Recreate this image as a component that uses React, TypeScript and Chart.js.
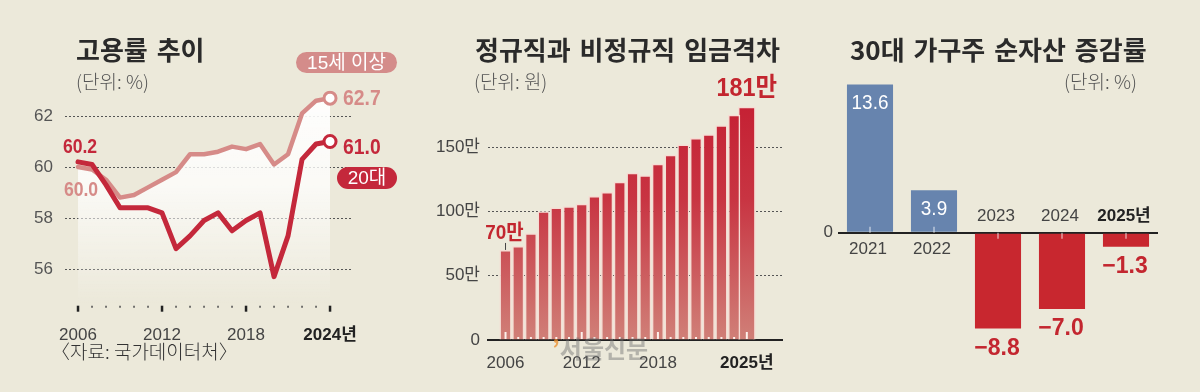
import React, { useEffect, useRef } from "react";
import { Chart, registerables } from "chart.js";

Chart.register(...registerables);

const NUM = "'Liberation Sans Narrow', 'Liberation Sans', 'Noto Sans CJK KR', sans-serif";
const KO = "'Noto Sans CJK KR', 'Noto Sans', sans-serif";

// ---- 고용률 추이 (단위: %) ----
const empYears = [2006, 2007, 2008, 2009, 2010, 2011, 2012, 2013, 2014, 2015, 2016, 2017, 2018, 2019, 2020, 2021, 2022, 2023, 2024];
const emp15 = [60.0, 59.9, 59.5, 58.8, 58.9, 59.2, 59.5, 59.8, 60.5, 60.5, 60.6, 60.8, 60.7, 60.9, 60.1, 60.5, 62.1, 62.6, 62.7];
const emp20 = [60.2, 60.1, 59.3, 58.4, 58.4, 58.4, 58.2, 56.8, 57.3, 57.9, 58.2, 57.5, 57.9, 58.2, 55.7, 57.3, 60.3, 60.9, 61.0];
const empYTicks = [56, 58, 60, 62];
const empXTicks = [2006, 2012, 2018, 2024];

// ---- 정규직과 비정규직 임금격차 (단위: 만원) ----
const gapYears = [2006, 2007, 2008, 2009, 2010, 2011, 2012, 2013, 2014, 2015, 2016, 2017, 2018, 2019, 2020, 2021, 2022, 2023, 2024, 2025];
const gapValues = [70, 73, 83, 100, 103, 104, 106, 112, 115, 123, 130, 128, 137, 144, 152, 157, 160, 167, 175, 181];
const gapYTicks = [0, 50, 100, 150];
const gapXTicks = [2006, 2012, 2018, 2025];

// ---- 30대 가구주 순자산 증감률 (단위: %) ----
const assetYears = ["2021", "2022", "2023", "2024", "2025"];
const assetValues = [13.6, 3.9, -8.8, -7.0, -1.3];

const BG = "#ece9da";
const RED = "#c4283b";
const PINK = "#d68b88";
const PILL_PINK = "#d48c8a";
const BLUE = "#6784ae";
const BAR_RED = "#c8272f";
const LABEL_RED = "#c3262f";
const TICK_SIZE = 17;

const zeroPad = (s: any) => {
  s.paddingLeft = 0;
  s.paddingRight = 0;
  s.paddingTop = 0;
  s.paddingBottom = 0;
};

// condensed text, to imitate the narrow newspaper figures
function narrowText(ctx: any, text: string, x: number, y: number, sx = 0.88) {
  ctx.save();
  ctx.translate(x, y);
  ctx.scale(sx, 1);
  ctx.fillText(text, 0, 0);
  ctx.restore();
}

function empConfig(): any {
  const labelPlugin = {
    id: "empLabels",
    afterDatasetsDraw(chart: any) {
      const { ctx, chartArea } = chart;
      const x = chart.scales.x;
      const y = chart.scales.y;
      ctx.save();
      empYears.forEach((yr) => {
        const px = x.getPixelForValue(yr);
        const major = empXTicks.includes(yr);
        ctx.strokeStyle = major ? "#222" : "#555";
        ctx.lineWidth = major ? 2.5 : 1.6;
        ctx.beginPath();
        ctx.moveTo(px, chartArea.bottom + 1);
        ctx.lineTo(px, chartArea.bottom + (major ? 7 : 3));
        ctx.stroke();
      });
      const last = empYears.length - 1;
      const x0 = x.getPixelForValue(empYears[0]);
      const xl = x.getPixelForValue(empYears[last]);
      ctx.textBaseline = "middle";
      ctx.textAlign = "center";
      ctx.font = `bold 20px ${NUM}`;
      ctx.fillStyle = RED;
      narrowText(ctx, emp20[0].toFixed(1), x0 + 2, y.getPixelForValue(emp20[0]) - 14);
      ctx.fillStyle = PINK;
      narrowText(ctx, emp15[0].toFixed(1), x0 + 3, y.getPixelForValue(emp15[0]) + 23);
      ctx.textAlign = "left";
      ctx.font = `bold 22px ${NUM}`;
      ctx.fillStyle = PINK;
      narrowText(ctx, emp15[last].toFixed(1), xl + 13, y.getPixelForValue(emp15[last]) + 1);
      ctx.fillStyle = RED;
      narrowText(ctx, emp20[last].toFixed(1), xl + 13, y.getPixelForValue(emp20[last]) + 6);
      ctx.restore();
    },
  };
  const last = empYears.length - 1;
  const pr = (c: any) => (c.dataIndex === last ? 6 : 0);
  return {
    type: "line",
    data: {
      datasets: [
        {
          label: "20대",
          data: empYears.map((yr, i) => ({ x: yr, y: emp20[i] })),
          borderColor: RED,
          borderWidth: 5,
          tension: 0,
          borderJoinStyle: "round",
          borderCapStyle: "round",
          pointRadius: pr,
          pointBackgroundColor: "#fff",
          pointBorderColor: RED,
          pointBorderWidth: 3,
          fill: false,
          order: 0,
        },
        {
          label: "15세 이상",
          data: empYears.map((yr, i) => ({ x: yr, y: emp15[i] })),
          borderColor: PINK,
          borderWidth: 4.5,
          tension: 0,
          borderJoinStyle: "round",
          borderCapStyle: "round",
          pointRadius: pr,
          pointBackgroundColor: "#fff",
          pointBorderColor: PINK,
          pointBorderWidth: 3,
          fill: "start",
          backgroundColor: (c: any) => {
            const area = c.chart.chartArea;
            if (!area) return "rgba(255,255,255,0.6)";
            const g = c.chart.ctx.createLinearGradient(0, area.top, 0, area.bottom);
            g.addColorStop(0, "rgba(255,255,255,0.95)");
            g.addColorStop(0.45, "rgba(255,255,255,0.75)");
            g.addColorStop(1, "rgba(255,255,255,0)");
            return g;
          },
          order: 1,
        },
      ],
    },
    options: {
      responsive: false,
      animation: false,
      devicePixelRatio: 1,
      layout: { padding: { top: 90.5, right: 47, left: 0, bottom: 0 } },
      plugins: { legend: { display: false }, tooltip: { enabled: false } },
      scales: {
        x: {
          type: "linear",
          min: 2005.07,
          max: 2025.64,
          offset: false,
          afterBuildTicks: (a: any) => {
            a.ticks = empXTicks.map((v) => ({ value: v }));
          },
          afterFit: (s: any) => {
            s.height = 392 - 304.7;
            zeroPad(s);
          },
          grid: { display: false },
          border: { display: false },
          ticks: {
            autoSkip: false,
            maxRotation: 0,
            padding: 12,
            callback: (v: any) => (v === 2024 ? "2024년" : String(v)),
            color: (c: any) => (c.tick && c.tick.value === 2024 ? "#222" : "#444"),
            font: (c: any) => ({ family: NUM, size: TICK_SIZE, weight: c.tick && c.tick.value === 2024 ? "bold" : "normal" }),
          },
        },
        y: {
          min: 54.6,
          max: 63,
          afterBuildTicks: (a: any) => {
            a.ticks = empYTicks.map((v) => ({ value: v }));
          },
          afterFit: (s: any) => {
            s.width = 65;
            zeroPad(s);
          },
          grid: { color: "#555", lineWidth: 1, drawTicks: false },
          border: { display: false, dash: [2, 2] },
          ticks: { padding: 12, color: "#555", font: { family: NUM, size: TICK_SIZE } },
        },
      },
    },
    plugins: [labelPlugin],
  };
}

function gapConfig(): any {
  const fill = (c: any) => {
    const area = c.chart.chartArea;
    if (!area) return "#c83a44";
    const g = c.chart.ctx.createLinearGradient(0, area.top, 0, area.bottom);
    g.addColorStop(0, "rgb(196,28,48)");
    g.addColorStop(0.45, "rgb(200,52,66)");
    g.addColorStop(1, "rgb(208,128,120)");
    return g;
  };
  const lastIdx = gapYears.length - 1;
  const labelPlugin = {
    id: "gapLabels",
    afterDatasetsDraw(chart: any) {
      const { ctx, chartArea } = chart;
      const x = chart.scales.x;
      const y = chart.scales.y;
      ctx.save();
      gapYears.forEach((yr) => {
        const px = x.getPixelForValue(yr);
        const major = gapXTicks.includes(yr);
        ctx.strokeStyle = "rgba(255,248,242,0.95)";
        ctx.lineWidth = 2;
        ctx.beginPath();
        ctx.moveTo(px, chartArea.bottom - 1);
        ctx.lineTo(px, chartArea.bottom - (major ? 8 : 3));
        ctx.stroke();
      });
      const x0 = x.getPixelForValue(gapYears[0]);
      const t0 = y.getPixelForValue(gapValues[0]);
      ctx.strokeStyle = "#444";
      ctx.lineWidth = 1;
      ctx.beginPath();
      ctx.moveTo(x0, t0 - 7);
      ctx.lineTo(x0, t0);
      ctx.stroke();
      ctx.textAlign = "center";
      ctx.textBaseline = "middle";
      ctx.fillStyle = LABEL_RED;
      ctx.font = `bold 21px ${NUM}`;
      narrowText(ctx, gapValues[0] + "만", x0 - 1, t0 - 17, 0.9);
      const xl = x.getPixelForValue(gapYears[lastIdx]);
      const tl = y.getPixelForValue(gapValues[lastIdx]);
      ctx.font = `bold 26px ${NUM}`;
      narrowText(ctx, gapValues[lastIdx] + "만", xl, tl - 18, 0.9);
      ctx.restore();
    },
  };
  const common = {
    backgroundColor: fill,
    borderColor: "#f6dcd4",
    borderWidth: 1.5,
    borderSkipped: "bottom",
    categoryPercentage: 1,
    grouped: false,
  };
  return {
    type: "bar",
    data: {
      datasets: [
        {
          ...common,
          label: "임금격차",
          data: gapYears.slice(0, lastIdx).map((yr, i) => ({ x: yr, y: gapValues[i] })),
          barPercentage: 0.96,
        },
        {
          ...common,
          label: "2025",
          data: [{ x: gapYears[lastIdx], y: gapValues[lastIdx] }],
          barThickness: 17,
        },
      ],
    },
    options: {
      responsive: false,
      animation: false,
      devicePixelRatio: 1,
      layout: { padding: { top: 82.7, right: 18, left: 0, bottom: 0 } },
      plugins: { legend: { display: false }, tooltip: { enabled: false } },
      scales: {
        x: {
          type: "linear",
          min: 2004.62,
          max: 2027.77,
          offset: false,
          afterBuildTicks: (a: any) => {
            a.ticks = gapXTicks.map((v) => ({ value: v }));
          },
          afterFit: (s: any) => {
            s.height = 52;
            zeroPad(s);
          },
          grid: { display: false },
          border: { display: true, color: "#222", width: 2 },
          ticks: {
            autoSkip: false,
            maxRotation: 0,
            padding: 5,
            callback: (v: any) => (v === 2025 ? "2025년" : String(v)),
            color: (c: any) => (c.tick && c.tick.value === 2025 ? "#222" : "#444"),
            font: (c: any) => ({ family: NUM, size: TICK_SIZE, weight: c.tick && c.tick.value === 2025 ? "bold" : "normal" }),
          },
        },
        y: {
          min: 0,
          max: 200,
          afterBuildTicks: (a: any) => {
            a.ticks = gapYTicks.map((v) => ({ value: v }));
          },
          afterFit: (s: any) => {
            s.width = 88;
            zeroPad(s);
          },
          grid: {
            color: (c: any) => (c.tick && c.tick.value === 0 ? "rgba(0,0,0,0)" : "#555"),
            lineWidth: 1,
            drawTicks: false,
          },
          border: { display: false, dash: [2, 2] },
          ticks: {
            padding: 8,
            color: "#444",
            font: { family: NUM, size: TICK_SIZE },
            callback: (v: any) => (v === 0 ? "0" : v + "만"),
          },
        },
      },
    },
    plugins: [labelPlugin],
  };
}

function assetConfig(): any {
  const labelPlugin = {
    id: "assetLabels",
    afterDatasetsDraw(chart: any) {
      const { ctx } = chart;
      const meta = chart.getDatasetMeta(0);
      const zero = chart.scales.y.getPixelForValue(0);
      ctx.save();
      ctx.textAlign = "center";
      ctx.textBaseline = "middle";
      meta.data.forEach((bar: any, i: number) => {
        const v = assetValues[i];
        const p = bar.getProps(["x", "y"], true);
        const isLast = i === assetYears.length - 1;
        ctx.strokeStyle = "rgba(255,255,255,0.55)";
        ctx.lineWidth = 1.5;
        ctx.beginPath();
        ctx.moveTo(p.x, zero);
        ctx.lineTo(p.x, v >= 0 ? zero - 6 : zero + 6);
        ctx.stroke();
        if (v >= 0) {
          ctx.fillStyle = "#fff";
          ctx.font = `21px ${NUM}`;
          narrowText(ctx, v.toFixed(1), p.x, p.y + 19, 0.9);
          ctx.fillStyle = "#444";
          ctx.font = `${TICK_SIZE}px ${NUM}`;
          ctx.fillText(assetYears[i], p.x - 2, zero + 17);
        } else {
          ctx.fillStyle = LABEL_RED;
          ctx.font = `bold 23px ${NUM}`;
          ctx.fillText("\u2212" + Math.abs(v).toFixed(1), p.x - 1, p.y + 20);
          ctx.fillStyle = isLast ? "#222" : "#444";
          ctx.font = `${isLast ? "bold " : ""}${TICK_SIZE}px ${NUM}`;
          ctx.fillText(isLast ? assetYears[i] + "년" : assetYears[i], p.x - 2, zero - 16);
        }
      });
      ctx.restore();
    },
  };
  return {
    type: "bar",
    data: {
      labels: assetYears,
      datasets: [
        {
          label: "순자산 증감률",
          data: assetValues,
          backgroundColor: (c: any) => (c.raw >= 0 ? BLUE : BAR_RED),
          barPercentage: 0.72,
          categoryPercentage: 1,
        },
      ],
    },
    options: {
      responsive: false,
      animation: false,
      devicePixelRatio: 1,
      layout: { padding: { top: 74.65, right: 42, left: 0, bottom: 39.4 } },
      plugins: { legend: { display: false }, tooltip: { enabled: false } },
      scales: {
        x: { display: false },
        y: {
          min: -11,
          max: 14.5,
          afterBuildTicks: (a: any) => {
            a.ticks = [{ value: 0 }];
          },
          afterFit: (s: any) => {
            s.width = 38;
            zeroPad(s);
          },
          grid: { color: "#222", lineWidth: 2, drawTicks: false },
          border: { display: false },
          ticks: { padding: 5, color: "#444", font: { family: NUM, size: TICK_SIZE } },
        },
      },
    },
    plugins: [labelPlugin],
  };
}

const abs = (o: any): any => ({ position: "absolute", whiteSpace: "nowrap", ...o });
const titleStyle = (left: number): any =>
  abs({ left, top: 36, fontFamily: KO, fontSize: 26, lineHeight: "26px", fontWeight: 700, color: "#2a2a2a", wordSpacing: 3 });
const unitStyle = (o: any): any =>
  abs({ top: 71, fontFamily: KO, fontSize: 19, lineHeight: "19px", fontWeight: 300, color: "#555", ...o });

export default function App() {
  const r1 = useRef<HTMLCanvasElement>(null);
  const r2 = useRef<HTMLCanvasElement>(null);
  const r3 = useRef<HTMLCanvasElement>(null);
  useEffect(() => {
    const c1 = new Chart(r1.current as any, empConfig());
    const c2 = new Chart(r2.current as any, gapConfig());
    const c3 = new Chart(r3.current as any, assetConfig());
    return () => {
      c1.destroy();
      c2.destroy();
      c3.destroy();
    };
  }, []);
  return (
    <div style={{ position: "absolute", left: 0, top: 0, width: 1200, height: 392, background: BG, overflow: "hidden", fontFamily: KO }}>
      <canvas ref={r1} width={400} height={392} style={{ position: "absolute", left: 0, top: 0 }} />
      <canvas ref={r2} width={400} height={392} style={{ position: "absolute", left: 400, top: 0 }} />
      <canvas ref={r3} width={400} height={392} style={{ position: "absolute", left: 800, top: 0 }} />

      <div style={titleStyle(76)}>고용률 추이</div>
      <div style={unitStyle({ left: 76 })}>(단위: %)</div>
      <div style={abs({ left: 51, top: 341, fontFamily: KO, fontSize: 19, lineHeight: "19px", fontWeight: 300, color: "#333" })}>〈자료: 국가데이터처〉</div>
      <div
        style={abs({
          left: 296, top: 52, width: 101, height: 21, borderRadius: 11, background: PILL_PINK, color: "#fff",
          fontFamily: NUM, fontSize: 19, lineHeight: "21px", textAlign: "center",
        })}
      >
        15세 이상
      </div>
      <div
        style={abs({
          left: 337, top: 167, width: 60, height: 22, borderRadius: 11, background: RED, color: "#fff",
          fontFamily: NUM, fontSize: 19, lineHeight: "22px", textAlign: "center",
        })}
      >
        20대
      </div>

      <div style={titleStyle(475)}>정규직과 비정규직 임금격차</div>
      <div style={unitStyle({ left: 474 })}>(단위: 원)</div>
      <div style={abs({ left: 552, top: 336, fontFamily: KO, fontSize: 24, lineHeight: "24px", fontWeight: 700, color: "rgba(110,110,110,0.45)" })}>
        <span style={{ color: "rgba(235,140,40,0.75)" }}>’</span>서울신문
      </div>

      <div style={titleStyle(850)}>30대 가구주 순자산 증감률</div>
      <div style={unitStyle({ right: 63 })}>(단위: %)</div>
    </div>
  );
}
